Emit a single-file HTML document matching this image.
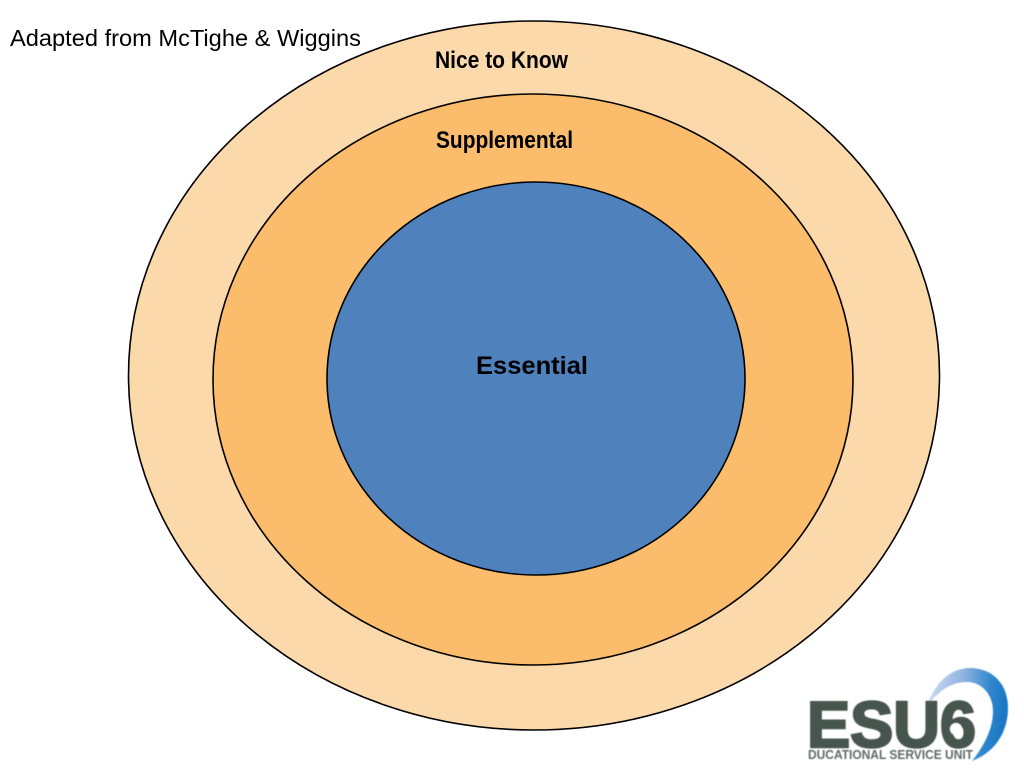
<!DOCTYPE html>
<html>
<head>
<meta charset="utf-8">
<style>
html,body{margin:0;padding:0;background:#fff;width:1024px;height:768px;overflow:hidden}
svg{display:block}
text{font-family:"Liberation Sans",sans-serif}
</style>
</head>
<body>
<svg width="1024" height="768" viewBox="0 0 1024 768" xmlns="http://www.w3.org/2000/svg">
<defs>
<linearGradient id="sw" x1="0" y1="0" x2="1" y2="0.15">
<stop offset="0" stop-color="#d5e0f1"/>
<stop offset="0.45" stop-color="#8fb3e0"/>
<stop offset="0.8" stop-color="#2f86cc"/>
<stop offset="1" stop-color="#1b78c4"/>
</linearGradient>
<filter id="soft" x="-5%" y="-5%" width="110%" height="110%"><feGaussianBlur stdDeviation="0.5"/></filter>
</defs>
<ellipse cx="534" cy="375.5" rx="405.5" ry="354.5" fill="#fcd9ab" stroke="#000" stroke-width="1.6"/>
<ellipse cx="533" cy="379.5" rx="320" ry="285.5" fill="#fbbd6b" stroke="#000" stroke-width="1.6"/>
<ellipse cx="536" cy="378.5" rx="209" ry="196.5" fill="#4f81bd" stroke="#000" stroke-width="1.6"/>
<text x="10" y="46" font-size="23" textLength="351" lengthAdjust="spacingAndGlyphs" fill="#000">Adapted from McTighe &amp; Wiggins</text>
<text x="435" y="68" font-size="24" font-weight="700" textLength="133" lengthAdjust="spacingAndGlyphs" fill="#000">Nice to Know</text>
<text x="436" y="148" font-size="24" font-weight="700" textLength="137" lengthAdjust="spacingAndGlyphs" fill="#000">Supplemental</text>
<text x="476" y="374" font-size="25" font-weight="700" textLength="112" lengthAdjust="spacingAndGlyphs" fill="#000">Essential</text>
<g filter="url(#soft)">
<path d="M927 706 C934 684 950 668 970 668 C994 668 1009 686 1008 710 C1007 735 993 753 972 761 C983 747 993 730 993 711 C993 695 982 682 967 682 C950 682 938 692 927 706 Z" fill="url(#sw)"/>
<text x="807" y="747" font-size="65" font-weight="700" textLength="169" lengthAdjust="spacingAndGlyphs" fill="#46544f" stroke="#46544f" stroke-width="2.5">ESU6</text>
<circle cx="956" cy="729" r="6" fill="#fff"/>
<text x="808" y="759" font-size="13" font-weight="700" textLength="165" lengthAdjust="spacingAndGlyphs" fill="#5f6b67">DUCATIONAL SERVICE UNIT</text>
</g>
</svg>
</body>
</html>
